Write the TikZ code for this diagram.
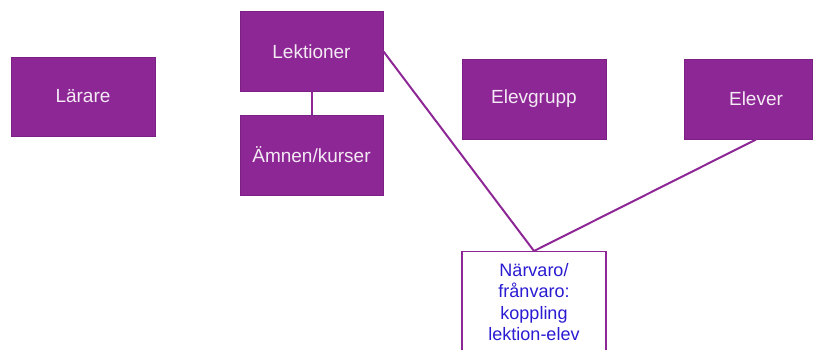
\documentclass[tikz,border=0pt]{standalone}
\usepackage{fontspec}
\setmainfont{Liberation Sans}
\usetikzlibrary{calc}
\definecolor{boxfill}{HTML}{8E2796}
\definecolor{boxline}{HTML}{7C2085}
\definecolor{boxtext}{HTML}{F3EAF4}
\definecolor{bluetext}{HTML}{2A1BD2}
\begin{document}
\begin{tikzpicture}[x=1pt,y=1pt,
  pbox/.style={rectangle, draw=boxline, line width=1pt, fill=boxfill, text=boxtext,
    inner sep=0pt, font=\fontsize{19}{22}\selectfont},
  wbox/.style={rectangle, draw=boxfill, line width=1.3pt, fill=white, inner sep=0pt},
  conn/.style={draw=boxfill, line width=2pt}]
\useasboundingbox (0,0) rectangle (816,349);
\node[pbox, minimum width=144pt, minimum height=79pt] (larare) at (83,252.5) {Lärare};
\node[pbox, minimum width=143pt, minimum height=79pt] (lekt) at (311.5,297.5) {Lektioner};
\node[pbox, minimum width=143pt, minimum height=80pt] (amnen) at (311.5,194) {Ämnen/kurser};
\node[pbox, minimum width=144pt, minimum height=80pt] (grupp) at (534,250) {Elevgrupp};
\node[pbox, minimum width=128pt, minimum height=80pt] (elever) at (748,250) {\hspace*{16pt}Elever};
\node[wbox, minimum width=144pt, minimum height=120pt, anchor=north] (narv) at (534,98) {};
\node[text=bluetext, align=center, inner sep=0pt, font=\fontsize{18}{21.5}\selectfont] (narvtext) at (534,47) {Närvaro/\\frånvaro:\\koppling\\lektion-elev};
\coordinate (elbot) at ($(elever.south)+(8,0)$);
\draw[conn] (lekt.south) -- (amnen.north);
\draw[conn] (lekt.east) -- (narv.north);
\draw[conn] (elbot) -- (narv.north);
\end{tikzpicture}
\end{document}
